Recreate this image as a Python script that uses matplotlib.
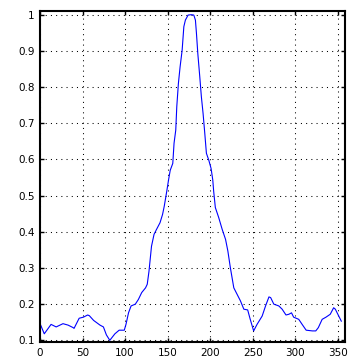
import numpy as np
import matplotlib
matplotlib.use("Agg")
import matplotlib.pyplot as plt

# curve
x = [0.8, 5, 13, 19, 27, 33, 39, 40, 46, 51, 56, 58, 63, 70.5, 74.5, 78, 82,
     88, 93, 99, 101, 104, 107, 112, 115.6, 119.5, 124, 126, 128, 131, 134,
     137, 141, 144, 146, 149, 151, 153, 156, 157.5, 159.5, 160.7, 162.6,
     164.6, 167, 169, 170.8, 174, 177.9, 180.7, 182.6, 183.8, 185.4, 187.7,
     189.6, 191.6, 193.6, 195.5, 198.3, 201, 203, 204, 206, 210, 214, 218,
     220.7, 223.7, 227.7, 231.6, 235.5, 239.5, 244, 247, 251, 255, 261, 265,
     269, 271, 274.7, 280.6, 284.5, 289, 292.4, 295.5, 298, 304, 308, 312.7,
     320, 324, 327, 331.5, 336, 341, 345, 347, 351, 354]
y = [0.142, 0.118, 0.144, 0.137, 0.146, 0.142, 0.135, 0.133, 0.161, 0.164,
     0.170, 0.168, 0.155, 0.142, 0.137, 0.115, 0.100, 0.118, 0.128, 0.128,
     0.144, 0.176, 0.195, 0.200, 0.213, 0.232, 0.245, 0.255, 0.290, 0.360,
     0.393, 0.407, 0.425, 0.448, 0.471, 0.513, 0.543, 0.570, 0.589, 0.645,
     0.681, 0.746, 0.810, 0.856, 0.902, 0.967, 0.985, 0.999, 1.000, 0.999,
     0.985, 0.949, 0.893, 0.829, 0.773, 0.727, 0.672, 0.617, 0.598, 0.575,
     0.543, 0.513, 0.467, 0.439, 0.407, 0.379, 0.347, 0.300, 0.245, 0.227,
     0.209, 0.186, 0.184, 0.158, 0.126, 0.144, 0.167, 0.195, 0.220, 0.218,
     0.200, 0.195, 0.186, 0.170, 0.172, 0.176, 0.164, 0.158, 0.144, 0.128,
     0.126, 0.126, 0.135, 0.158, 0.164, 0.172, 0.190, 0.186, 0.167, 0.153]

xticks = [0, 50, 100, 150, 200, 250, 300, 350]
yticks = [0.1, 0.2, 0.3, 0.4, 0.5, 0.6, 0.7, 0.8, 0.9, 1]
ylabels = ["0.1", "0.2", "0.3", "0.4", "0.5", "0.6", "0.7", "0.8", "0.9", "1"]

fig = plt.figure(figsize=(3.64, 3.62), dpi=100)
ax = fig.add_axes([0.1099, 0.0552, 0.947 - 0.1099, 0.9696 - 0.0552])

ax.plot(x, y, color="#0000ff", lw=0.8)

ax.set_xlim(0, 358)
ax.set_ylim(0.0953, 1.0102)
ax.set_xticks(xticks)
ax.set_yticks(yticks)
ax.set_yticklabels(ylabels)
ax.grid(True, color="black", linestyle=(0, (1, 4)), lw=0.75)
ax.tick_params(direction="in", length=3, width=1, top=True, right=True,
               labelsize=7.5, pad=4)
for s in ax.spines.values():
    s.set_linewidth(1.5)

fig.savefig("out.png", dpi=100)
